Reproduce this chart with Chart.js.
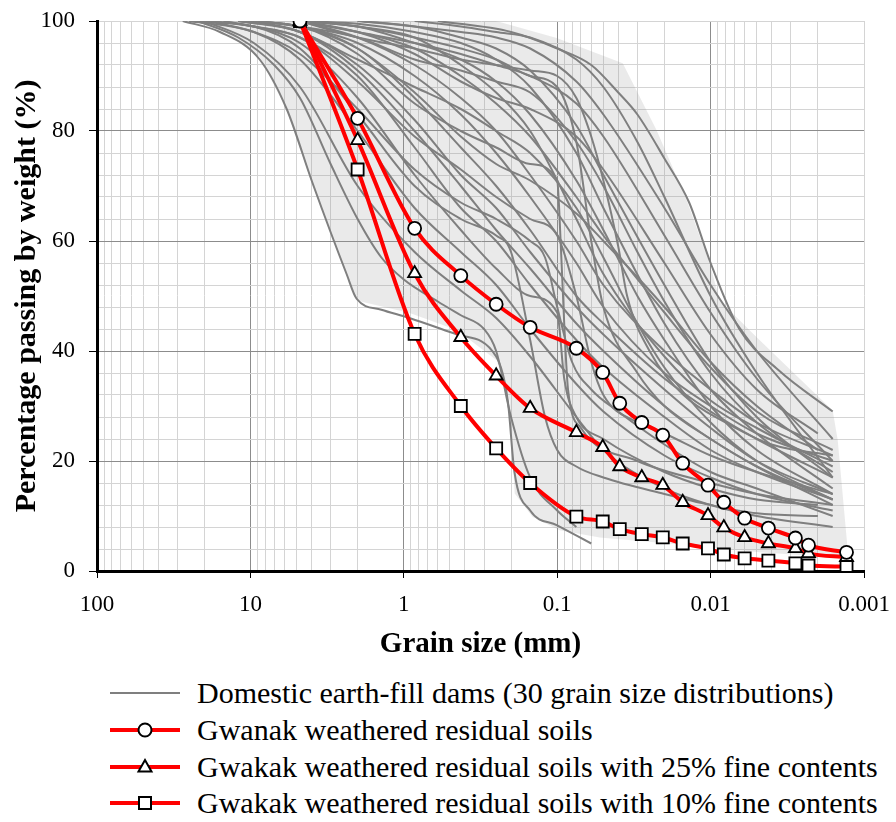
<!DOCTYPE html>
<html>
<head>
<meta charset="utf-8">
<script src="https://cdn.jsdelivr.net/npm/chart.js@4.4.0/dist/chart.umd.min.js"></script>
<style>
  body { margin: 0; background: #fff; font-family: "Liberation Serif", "Times New Roman", serif; }
  #wrap { position: relative; width: 896px; height: 822px; overflow: hidden; }
  #grafico { position: absolute; left: 0; top: 0; }
  #legenda { position: absolute; left: 110px; top: 675px; color: #000; }
  .row { height: 36.7px; display: flex; align-items: center; font-size: 30px; white-space: nowrap; }
  .row svg { width: 70px; height: 20px; margin-right: 17px; flex: none; }
</style>
</head>
<body>
<div id="wrap">
  <canvas id="grafico" width="896" height="665"></canvas>
  <div id="legenda"></div>
</div>
<script>
// Grain size (mm) of the sieve and hydrometer readings
const redSizes = [4.75, 2, 0.85, 0.425, 0.25, 0.15, 0.075, 0.0505, 0.0391, 0.0281, 0.0205, 0.0152, 0.0104, 0.0082, 0.006, 0.0042, 0.0028, 0.0023, 0.0013];
const gwanak   = [100, 82.3, 62.3, 53.7, 48.5, 44.3, 40.5, 36.1, 30.5, 27.0, 24.7, 19.6, 15.6, 12.5, 9.6, 7.8, 6.0, 4.7, 3.4];
const gwakak25 = [100, 78.3, 54.1, 42.5, 35.5, 29.6, 25.2, 22.5, 19.0, 17.0, 15.6, 12.5, 10.1, 7.9, 6.1, 5.0, 4.1, 3.2, 2.5];
const gwakak10 = [100, 73.0, 43.1, 30.0, 22.3, 16.0, 9.9, 9.0, 7.6, 6.7, 6.1, 5.0, 4.1, 3.0, 2.3, 1.9, 1.4, 1.0, 0.8];

// 30 distributions of domestic earth-fill dams, [size mm, % passing]
const damCurves = [
  [[27.6,100],[15.8,98],[8.7,93],[5.8,84],[3.93,70.5],[2.36,54],[2.03,49.5],[1.4,47.5],[0.92,46],[0.45,43],[0.25,39],[0.21,31],[0.19,18],[0.15,11],[0.1,8.3],[0.06,5]],
  [[22,100],[12,97],[7,92],[4.75,86],[3,74],[2,64],[1.4,57],[1,53],[0.6,49],[0.425,46.5],[0.3,44],[0.25,40],[0.2,28],[0.15,17],[0.1,11],[0.075,8]],
  [[20,100],[9.5,96],[4.75,88],[2,70],[0.85,58],[0.425,51],[0.25,46],[0.15,39],[0.075,28],[0.05,22],[0.02,15],[0.01,12],[0.005,10],[0.0016,8]],
  [[25,100],[9.5,98],[4.75,93],[2,80],[0.85,66],[0.425,58],[0.25,52],[0.15,44],[0.075,34],[0.05,29],[0.02,21],[0.01,17],[0.005,14],[0.0016,11]],
  [[19,100],[9.5,99],[4.75,96],[2,86],[0.85,72],[0.425,62],[0.25,55],[0.15,50],[0.1,47],[0.09,35],[0.075,28],[0.05,24],[0.02,18],[0.01,15],[0.005,13],[0.002,12]],
  [[15,100],[9.5,99],[4.75,97],[2,90],[0.85,77],[0.425,66],[0.25,60],[0.15,52],[0.075,42],[0.05,37],[0.02,28],[0.01,22],[0.005,18],[0.0016,13]],
  [[25,100],[9.5,99],[4.75,95],[2,83],[0.85,70],[0.425,64],[0.25,61],[0.2,58],[0.15,42],[0.12,28],[0.1,22],[0.075,19],[0.05,17],[0.02,14],[0.01,12],[0.005,10.5],[0.002,10]],
  [[12,100],[4.75,98],[2,92],[0.85,82],[0.425,72],[0.25,66],[0.15,58],[0.075,48],[0.05,43],[0.02,33],[0.01,26],[0.005,20],[0.0016,14]],
  [[9.5,100],[4.75,99],[2,95],[0.85,86],[0.425,77],[0.25,70],[0.15,62],[0.075,50],[0.05,45],[0.02,35],[0.01,29],[0.005,24],[0.0016,17]],
  [[19,100],[9.5,99],[4.75,97],[2,89],[0.85,79],[0.425,73],[0.25,68],[0.15,64],[0.1,61],[0.075,50],[0.06,38],[0.05,32],[0.03,27],[0.02,25],[0.01,21],[0.005,18],[0.0016,14]],
  [[9.5,100],[4.75,99],[2,96],[0.85,90],[0.425,83],[0.25,76],[0.15,68],[0.075,56],[0.05,48],[0.02,36],[0.01,30],[0.005,25],[0.0016,20]],
  [[12,100],[4.75,99],[2,94],[0.85,85],[0.425,80],[0.25,77],[0.15,74],[0.1,71],[0.095,60],[0.09,45],[0.085,33],[0.07,26],[0.03,20],[0.01,16],[0.005,14],[0.0016,12]],
  [[4.75,100],[2,97],[0.85,92],[0.425,86],[0.25,80],[0.15,72],[0.075,60],[0.05,52],[0.02,40],[0.01,33],[0.005,27],[0.0016,21]],
  [[9.5,100],[4.75,98],[2,93],[0.85,88],[0.425,84],[0.25,80],[0.15,76],[0.075,66],[0.05,57],[0.03,45],[0.02,37],[0.01,27],[0.005,20],[0.0016,13]],
  [[4.75,100],[2,98],[0.85,95],[0.425,90],[0.25,85],[0.15,79],[0.075,68],[0.05,61],[0.02,47],[0.01,37],[0.005,29],[0.0016,22]],
  [[4.75,100],[2,99],[0.85,96],[0.425,93],[0.25,89],[0.15,83],[0.075,71],[0.05,62],[0.03,50],[0.02,42],[0.01,30],[0.005,22],[0.0016,14]],
  [[4.75,100],[2,98],[0.85,94],[0.425,89],[0.25,86],[0.15,84],[0.075,79],[0.05,73],[0.02,56],[0.01,43],[0.005,33],[0.002,25]],
  [[9.5,100],[4.75,99],[2,97],[0.85,93],[0.425,91],[0.25,89],[0.15,87],[0.075,78],[0.05,70],[0.03,58],[0.02,49],[0.01,36],[0.005,27],[0.0016,18]],
  [[4.75,100],[2,99.5],[0.85,98],[0.425,96],[0.25,93],[0.15,88],[0.075,76],[0.05,66],[0.02,45],[0.01,33],[0.005,25],[0.0016,15]],
  [[2,100],[0.85,99],[0.425,97],[0.25,95],[0.15,91],[0.075,81],[0.05,72],[0.02,52],[0.01,38],[0.005,28],[0.0016,17]],
  [[4.75,100],[2,99],[0.85,97],[0.425,95],[0.25,93],[0.15,90],[0.1,88],[0.075,78],[0.06,60],[0.05,48],[0.03,36],[0.02,30],[0.01,24],[0.005,19],[0.0016,12]],
  [[4.75,100],[2,98],[0.85,96],[0.425,94],[0.25,92],[0.15,90],[0.075,85],[0.05,79],[0.02,61],[0.01,47],[0.005,35],[0.0016,20]],
  [[4.75,100],[2,97],[0.85,95],[0.425,93],[0.25,92],[0.15,91],[0.1,90],[0.075,86],[0.06,79],[0.05,71],[0.04,59],[0.035,50],[0.025,40],[0.015,32],[0.008,27],[0.004,23],[0.0016,21]],
  [[2,100],[0.85,99],[0.425,98],[0.25,97],[0.15,95],[0.075,89],[0.05,83],[0.02,66],[0.01,52],[0.005,40],[0.0016,24]],
  [[0.85,100],[0.425,99],[0.25,98],[0.15,97],[0.075,93],[0.05,88],[0.03,78],[0.02,68],[0.01,50],[0.005,36],[0.0016,17]],
  [[0.6,100],[0.2,98],[0.1,95],[0.06,92],[0.04,87],[0.03,83],[0.02,75],[0.0138,67],[0.01,56],[0.0065,44],[0.0036,36.5],[0.0016,29]],
  [[4.75,100],[2,99],[0.85,97],[0.425,92],[0.25,87],[0.15,80],[0.075,64],[0.05,54],[0.02,39],[0.01,31],[0.005,26],[0.0016,19]],
  [[9.5,100],[4.75,99],[2,95],[0.85,87],[0.425,79],[0.25,74],[0.15,71],[0.075,65],[0.05,60],[0.02,48],[0.01,38],[0.005,30],[0.002,22]],
  [[12,100],[4.75,98],[2,91],[0.85,80],[0.425,70],[0.25,62],[0.15,55],[0.075,45],[0.05,40],[0.02,30],[0.01,24],[0.005,19],[0.0016,13]],
  [[19,100],[9.5,98],[4.75,94],[2,84],[0.85,73],[0.425,67],[0.25,64],[0.15,60],[0.12,57],[0.1,48],[0.08,38],[0.06,33],[0.04,29],[0.02,23],[0.01,18],[0.005,15],[0.0016,10]]
];

// shaded band around the dam curves (closed outline)
const envelopeSizes  = [27.6, 4.77, 1.06, 0.372, 0.237, 0.1008, 0.0374, 0.02245, 0.01432, 0.01014, 0.00872, 0.00501, 0.0016, 0.001484, 0.001277, 0.00124,
                        0.00479, 0.01178, 0.0528, 0.0963, 0.1444, 0.1892, 0.204, 0.248, 0.452, 0.915, 2.03, 2.36, 3.93, 5.80, 8.70, 15.85, 27.6];
const envelopeValues = [101.0, 101.6, 101.9, 101.2, 99.8, 96.9, 92.3, 80.1, 67.4, 55.9, 49.2, 42.5, 29.2, 23.8, 3.8, 2.3,
                        3.4, 4.5, 6.1, 7.4, 9.8, 14.1, 31.0, 38.3, 43.8, 46.9, 49.2, 53.8, 70.1, 83.8, 93.4, 98.7, 101.0];

const xTickLabels = [100, 10, 1, 0.1, 0.01, 0.001];
const yTickLabels = [0, 20, 40, 60, 80, 100];

const serif = '"Liberation Serif", "Times New Roman", serif';

// grade lines: 1..9 in every decade
const xGrid = [100];
xTickLabels.slice(1).forEach(dec => { for (let k = 1; k <= 9; k++) xGrid.push(+(dec * k).toPrecision(6)); });

const isDecade = v => xTickLabels.some(d => Math.abs(v - d) < d * 1e-6);
const isMajorY = v => yTickLabels.includes(Math.round(v));

const redLine = (label, values, style, radius) => ({
  label,
  data: redSizes.map((d, i) => ({ x: d, y: values[i] })),
  showLine: true,
  borderColor: '#ff0000',
  borderWidth: 4,
  cubicInterpolationMode: 'monotone',
  pointStyle: style,
  pointRadius: radius,
  pointBorderColor: '#000',
  pointBorderWidth: 1.8,
  pointBackgroundColor: '#fff',
  order: 0
});

const datasets = [
  redLine('Gwanak weathered residual soils', gwanak, 'circle', 6.5),
  redLine('Gwakak weathered residual soils with 25% fine contents', gwakak25, 'triangle', 7.5),
  redLine('Gwakak weathered residual soils with 10% fine contents', gwakak10, 'rect', 8.5)
];

damCurves.forEach((c, i) => {
  datasets.push({
    label: i === 0 ? 'Domestic earth-fill dams (30 grain size distributions)' : '',
    data: c.map(p => ({ x: p[0], y: p[1] })),
    showLine: true,
    borderColor: '#7f7f7f',
    borderWidth: 2,
    pointRadius: 0,
    cubicInterpolationMode: 'monotone',
    order: 1
  });
});

datasets.push({
  label: 'band',
  data: envelopeSizes.map((d, i) => ({ x: d, y: envelopeValues[i] })),
  showLine: true,
  borderWidth: 0,
  pointRadius: 0,
  tension: 0,
  fill: 'shape',
  backgroundColor: 'rgba(150,150,150,0.2)',
  clip: false,
  order: 2
});

Chart.defaults.font.family = serif;
Chart.defaults.color = '#000';

new Chart(document.getElementById('grafico'), {
  type: 'scatter',
  data: { datasets },
  options: {
    responsive: false,
    animation: false,
    layout: { padding: { top: 21, right: 32, left: 0, bottom: 0 } },
    plugins: { legend: { display: false }, tooltip: { enabled: false } },
    scales: {
      x: {
        type: 'logarithmic',
        reverse: true,
        min: 0.001,
        max: 100,
        afterBuildTicks: s => { s.ticks = xGrid.map(v => ({ value: v })); },
        afterFit: s => { s.height = 94; s.paddingLeft = 0; s.paddingRight = 0; },
        ticks: {
          autoSkip: false,
          maxRotation: 0,
          padding: 13,
          font: { family: serif, size: 23 },
          callback: v => isDecade(v) ? String(v) : ''
        },
        grid: {
          tickLength: 7,
          lineWidth: 1,
          color: c => (isDecade(c.tick.value) && c.tick.value > 0.0015) ? '#8c8c8c' : '#d4d4d4',
          tickColor: c => isDecade(c.tick.value) ? '#000' : 'rgba(0,0,0,0)'
        },
        border: { color: '#000', width: 3 },
        title: { display: true, text: 'Grain size (mm)', font: { family: serif, size: 29, weight: 'bold' }, padding: { top: 0, bottom: 3 } }
      },
      y: {
        min: 0,
        max: 100,
        // fixed axis width, and no extra room above for the top label
        afterFit: s => { s.width = 97; s.paddingTop = 0; s.paddingBottom = 0; },
        ticks: {
          stepSize: 4,
          autoSkip: false,
          padding: 14,
          font: { family: serif, size: 23 },
          callback: v => isMajorY(v) && Math.abs(v - Math.round(v)) < 1e-6 ? String(Math.round(v)) : ''
        },
        grid: {
          tickLength: 8,
          color: c => (isMajorY(c.tick.value) && c.tick.value < 99) ? '#8c8c8c' : '#d4d4d4',
          tickColor: c => isMajorY(c.tick.value) ? '#000' : 'rgba(0,0,0,0)'
        },
        border: { color: '#000', width: 3 },
        title: { display: true, text: 'Percentage passing by weight (%)', font: { family: serif, size: 30, weight: 'bold' }, padding: { top: 9, bottom: 0 } }
      }
    }
  }
});

// legenda em HTML, com amostra de linha e marcador
const legendItems = [
  { text: 'Domestic earth-fill dams (30 grain size distributions)', color: '#7f7f7f', width: 2, marker: '' },
  { text: 'Gwanak weathered residual soils', color: '#ff0000', width: 4, marker: '<circle cx="35" cy="10" r="6.5" fill="#fff" stroke="#000" stroke-width="2"/>' },
  { text: 'Gwakak weathered residual soils with 25% fine contents', color: '#ff0000', width: 4, marker: '<polygon points="35,3 41.5,14.5 28.5,14.5" fill="#fff" stroke="#000" stroke-width="2"/>' },
  { text: 'Gwakak weathered residual soils with 10% fine contents', color: '#ff0000', width: 4, marker: '<rect x="29" y="4" width="12" height="12" fill="#fff" stroke="#000" stroke-width="2"/>' }
];
const legenda = document.getElementById('legenda');
legendItems.forEach(it => {
  legenda.innerHTML += `
    <div class="row">
      <svg viewBox="0 0 70 20"><line x1="0" y1="10" x2="70" y2="10" stroke="${it.color}" stroke-width="${it.width}"/>${it.marker}</svg>
      <span>${it.text}</span>
    </div>`;
});
</script>
</body>
</html>
